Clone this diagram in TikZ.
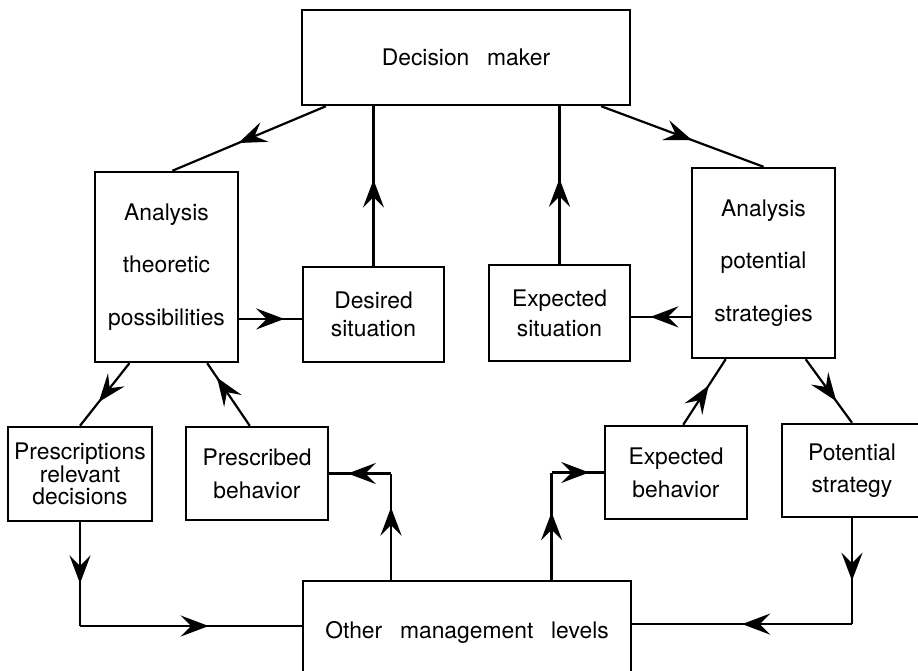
\documentclass[tikz,border=0pt]{standalone}
\usepackage{fontspec}
\setmainfont{TeX Gyre Heros}
\usetikzlibrary{arrows.meta,calc,decorations.markings}

\begin{document}
\begin{tikzpicture}[x=0.02cm,y=-0.02cm,
    box/.style={draw,line width=1.4pt,inner sep=0pt,align=center},
    lines/.style={font=\fontsize{13pt}{#1}\selectfont},
    link/.style={line width=1.25pt},
    arr/.style={postaction={decorate},decoration={markings,
      mark=at position #1 with {\arrow{Stealth[length=16pt,width=12pt,inset=6pt]}}}}]
      \useasboundingbox (0,0) rectangle (918,671);
      \clip (0,0) rectangle (918,671);
      % boxes
      \node[box,lines=15pt,minimum width=6.56cm,minimum height=1.9cm] (dm) at (466,57.5) {Decision\hspace{0.5em} maker};
      \node[box,lines=30pt,minimum width=2.86cm,minimum height=3.8cm] (atp) at (166.5,267) {Analysis\\theoretic\\possibilities};
      \node[box,lines=16pt,minimum width=2.82cm,minimum height=1.9cm] (desired) at (373.5,314.5) {Desired\\situation};
      \node[box,lines=17pt,minimum width=2.82cm,minimum height=1.92cm] (expsit) at (559.5,313) {Expected\\situation};
      \node[box,lines=30pt,minimum width=2.86cm,minimum height=3.8cm] (aps) at (763.5,263) {Analysis\\potential\\strategies};
      \node[box,lines=12.8pt,minimum width=2.88cm,minimum height=1.88cm] (prescr) at (80,474) {Prescriptions\\relevant\\decisions};
      \node[box,lines=18.7pt,minimum width=2.84cm,minimum height=1.86cm] (prescribed) at (257,473.5) {Prescribed\\behavior};
      \node[box,lines=18.7pt,minimum width=2.84cm,minimum height=1.86cm] (expbeh) at (676,472.5) {Expected\\behavior};
      \node[box,lines=18pt,minimum width=2.8cm,minimum height=1.86cm] (ps) at (852,470.5) {Potential\\strategy};
      \node[box,lines=15pt,minimum width=6.56cm,minimum height=2.04cm] (oml) at (467,632) {Other\hspace{0.5em} management\hspace{0.5em} levels};
      % top part
      \draw[link,arr=0.57] ($(dm.south west)!0.076!(dm.south east)$) -- ($(atp.north west)!0.54!(atp.north east)$);
      \draw[link,arr=0.56] ($(dm.south west)!0.909!(dm.south east)$) -- (aps.north);
      \draw[link,arr=0.54] (desired.north) -- (desired.north |- dm.south);
      \draw[link,arr=0.54] (expsit.north) -- (expsit.north |- dm.south);
      \coordinate (atpR) at ($(atp.north east)!0.77!(atp.south east)$);
      \draw[link,arr=0.72] (atpR) -- (atpR -| desired.west);
      \coordinate (apsL) at ($(aps.north west)!0.78!(aps.south west)$);
      \draw[link,arr=0.68] (apsL) -- (apsL -| expsit.east);
      % middle part
      \draw[link,arr=0.62] ($(atp.south west)!0.245!(atp.south east)$) -- (prescr.north);
      \draw[link,arr=0.77] ($(prescribed.north west)!0.45!(prescribed.north east)$) -- ($(atp.south west)!0.78!(atp.south east)$);
      \draw[link,arr=0.6] ($(expbeh.north west)!0.55!(expbeh.north east)$) -- ($(aps.south west)!0.24!(aps.south east)$);
      \draw[link,arr=0.66] ($(aps.south west)!0.79!(aps.south east)$) -- (ps.north);
      % bottom part
      \coordinate (omlL) at ([yshift=3.4pt]oml.west);
      \coordinate (omlR) at ([yshift=4.5pt]oml.east);
      \coordinate (omlA) at ($(oml.north west)!0.27!(oml.north east)$);
      \coordinate (omlB) at ($(oml.north west)!0.756!(oml.north east)$);
      \coordinate (c1) at (prescr.south |- omlL);
      \coordinate (c2) at (omlA |- prescribed.east);
      \coordinate (c3) at (omlB |- expbeh.west);
      \coordinate (c4) at (ps.south |- omlR);
      \draw[link,arr=0.59] (prescr.south) -- (c1);
      \draw[link,arr=0.58] (c1) -- (omlL);
      \draw[link,arr=0.68] (omlA) -- (c2);
      \draw[link,arr=0.70] (c2) -- (prescribed.east);
      \draw[link,arr=0.63] (omlB) -- (c3);
      \draw[link,arr=0.72] (c3) -- (expbeh.west);
      \draw[link,arr=0.59] (ps.south) -- (c4);
      \draw[link,arr=0.5] (c4) -- (omlR);
\end{tikzpicture}
\end{document}
